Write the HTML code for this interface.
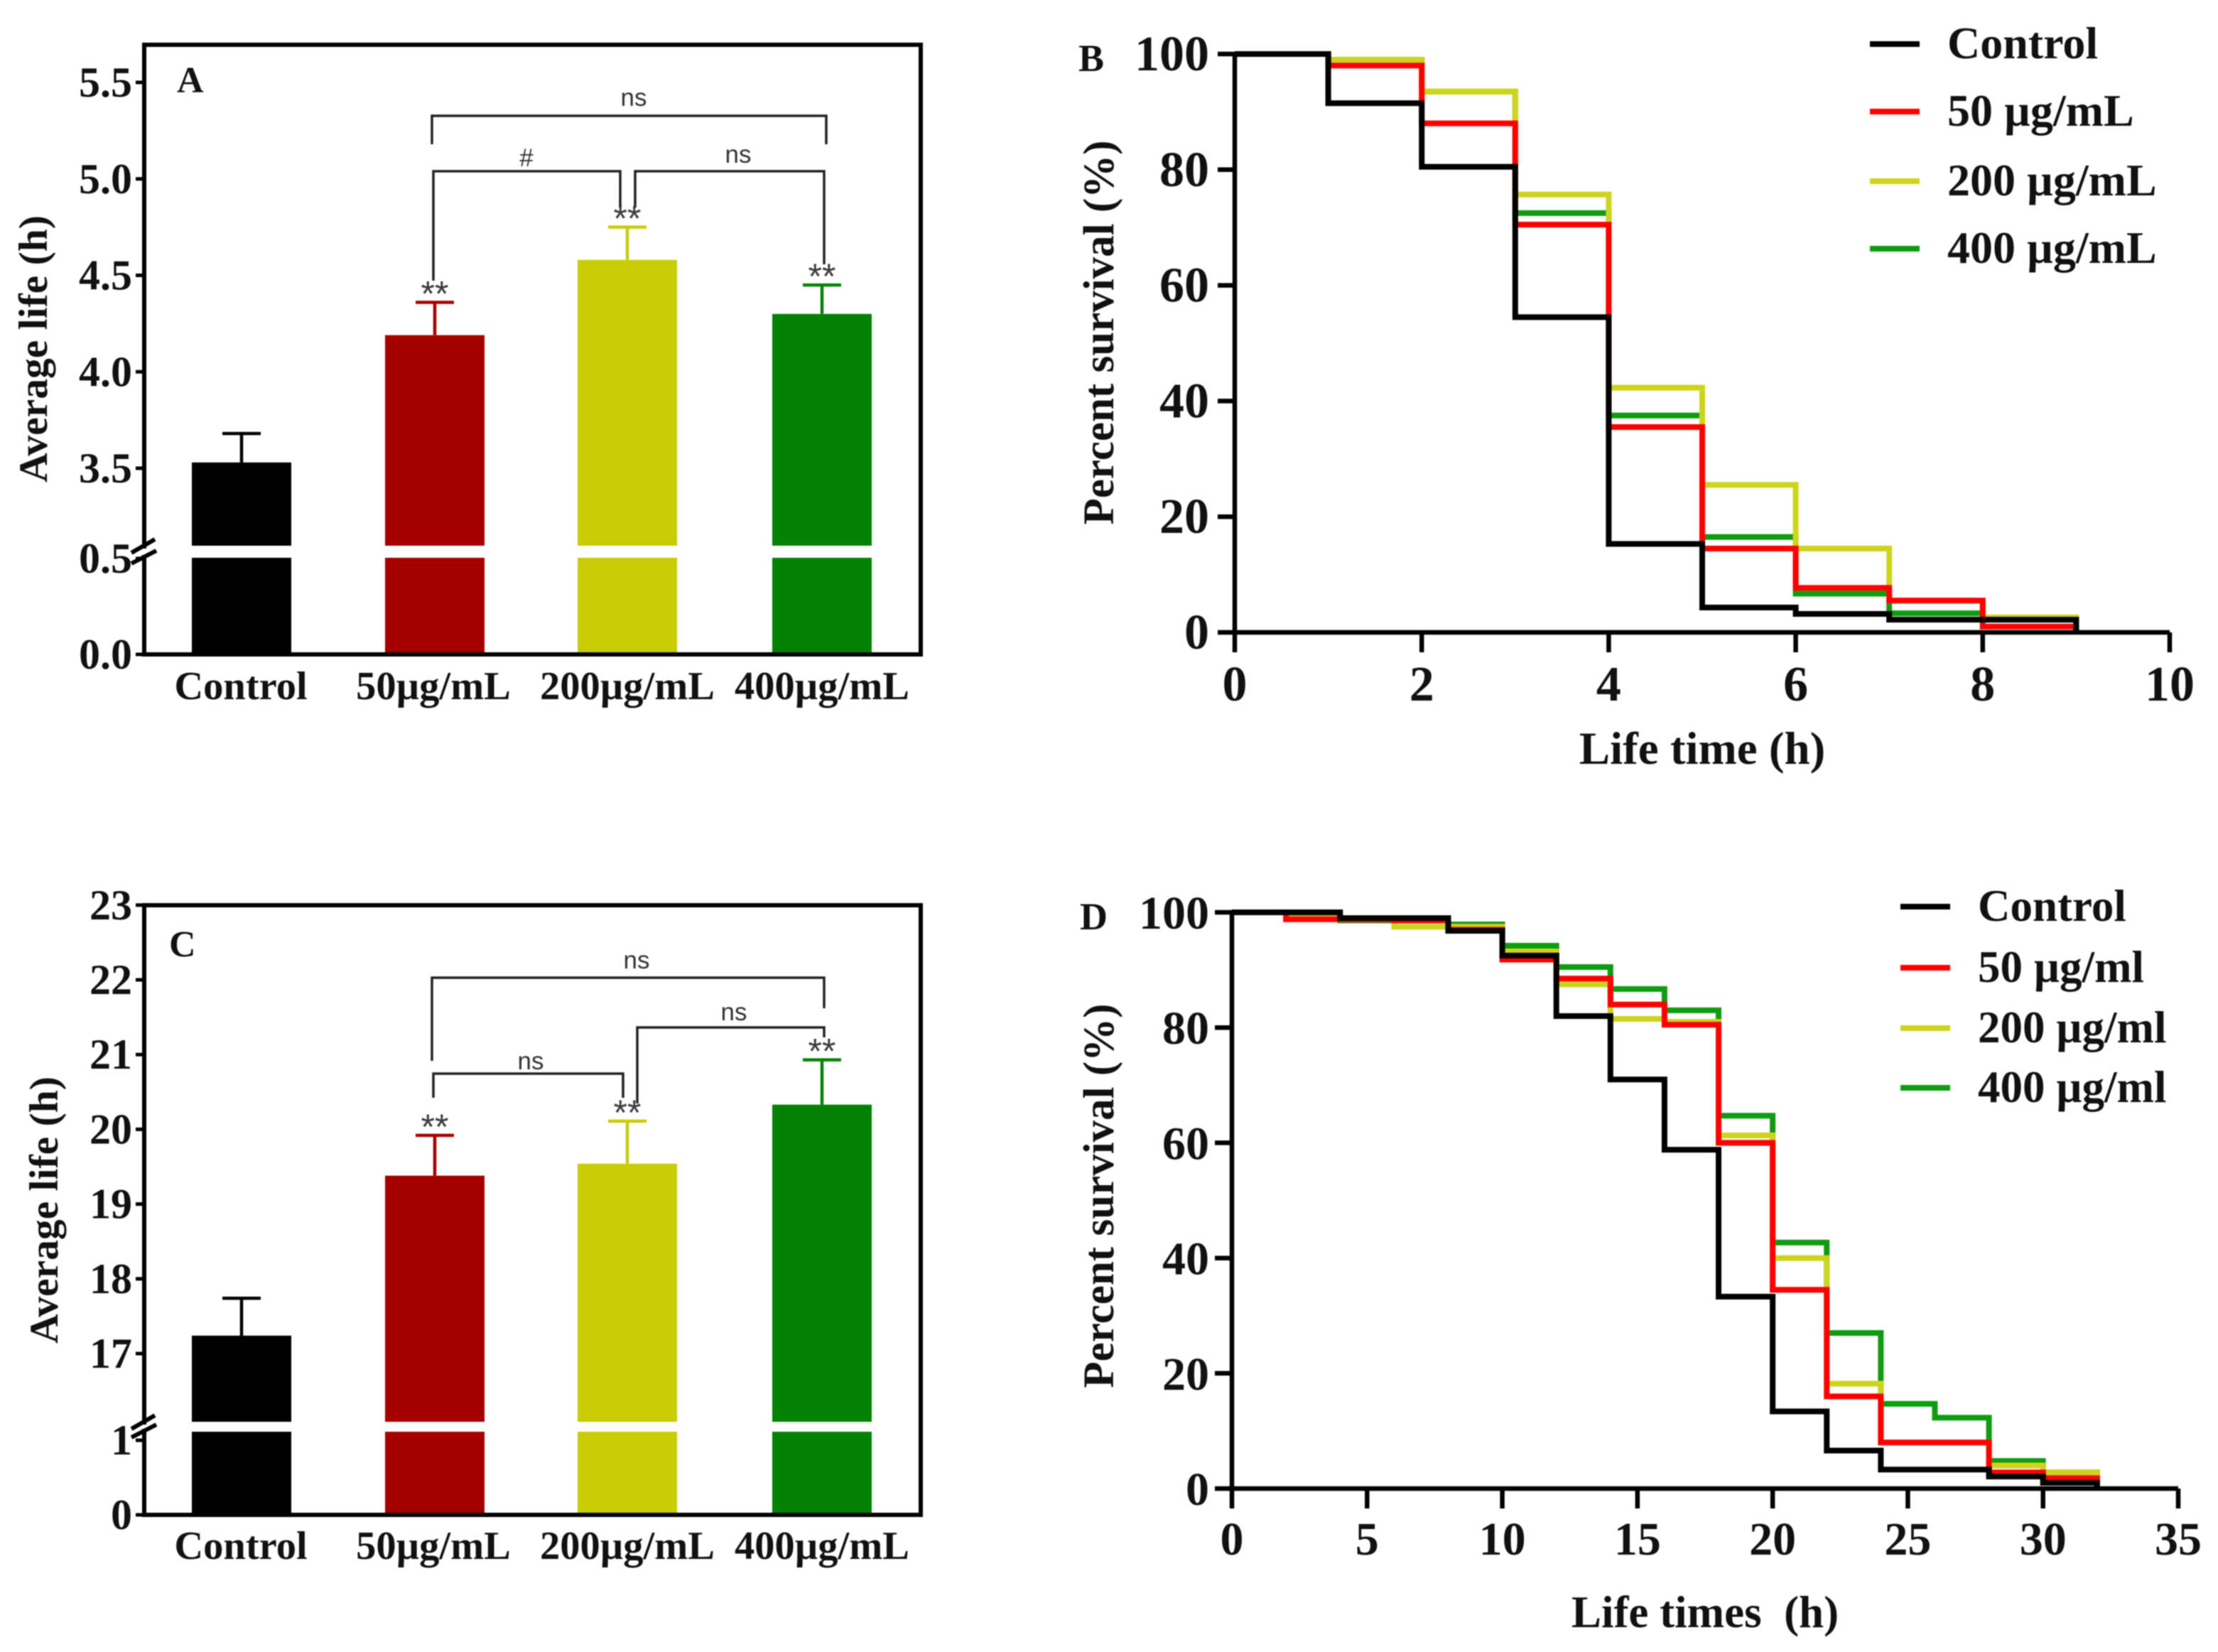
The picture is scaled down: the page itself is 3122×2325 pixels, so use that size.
<!DOCTYPE html>
<html lang="en">
<head>
<meta charset="utf-8">
<title>Average life and survival curves</title>
<style>
html,body{margin:0;padding:0;background:#fff;width:3122px;height:2325px;overflow:hidden}
svg{display:block;filter:blur(0.9px)}
text{font-family:"Liberation Serif",serif;font-weight:bold;fill:#111}
.note{font-family:"Liberation Sans",sans-serif;font-weight:normal;font-size:35px;fill:#333}
.star{font-family:"Liberation Sans",sans-serif;font-weight:normal;font-size:50px;fill:#3a3a3a}
.br{fill:none;stroke:#222;stroke-width:3.5}
</style>
</head>
<body>
<svg id="fig" xmlns="http://www.w3.org/2000/svg" width="3122" height="2325" viewBox="0 0 3122 2325">
  <rect width="3122" height="2325" fill="#fff"/>

  <g id="panelA"></g>
  <g id="panelB"></g>
  <g id="panelC"></g>
  <g id="panelD"></g>

  <text x="249" y="130" font-size="52">A</text>
  <text x="1518" y="100" font-size="54">B</text>
  <text x="238" y="1346" font-size="52">C</text>
  <text x="1520" y="1308" font-size="54">D</text>

  <text transform="translate(66,491) rotate(-90)" text-anchor="middle" font-size="57.5">Average life (h)</text>
  <text transform="translate(81,1703) rotate(-90)" text-anchor="middle" font-size="57.5">Average life (h)</text>
  <text transform="translate(1567,468) rotate(-90)" text-anchor="middle" font-size="61">Percent survival (%)</text>
  <text transform="translate(1567,1683) rotate(-90)" text-anchor="middle" font-size="61">Percent survival (%)</text>
  <text x="2396" y="1075" text-anchor="middle" font-size="65">Life time (h)</text>
  <text x="2400" y="2290" text-anchor="middle" font-size="63" xml:space="preserve">Life times  (h)</text>

  <g>
    <path class="br" d="M608 203V163H1163V203"/>
    <path class="br" d="M610 395V241H873V292"/>
    <path class="br" d="M894 292V241H1160V372"/>
    <text class="note" x="892" y="149" text-anchor="middle">ns</text>
    <text class="note" x="741" y="234" text-anchor="middle">#</text>
    <text class="note" x="1039" y="229" text-anchor="middle">ns</text>
  </g>
  <g>
    <path class="br" d="M608 1493V1376H1160V1419"/>
    <path class="br" d="M610 1545V1511H877V1545"/>
    <path class="br" d="M897 1553V1446H1160V1460"/>
    <text class="note" x="896" y="1363" text-anchor="middle">ns</text>
    <text class="note" x="747" y="1505" text-anchor="middle">ns</text>
    <text class="note" x="1033" y="1436" text-anchor="middle">ns</text>
  </g>
</svg>
<script>
var NS = 'http://www.w3.org/2000/svg';

// Panel A data
var barCategories = ['Control', '50µg/mL', '200µg/mL', '400µg/mL'];
var barColors = ['#000000', '#a60000', '#c9cc05', '#048204'];
var barStars = ['', '**', '**', '**'];
var aMeans = [3.53, 4.19, 4.58, 4.30];
var aErrorTops = [3.68, 4.36, 4.75, 4.45];
var aUpperTicks = [3.5, 4.0, 4.5, 5.0, 5.5];
var aLowerTicks = [0.0, 0.5];

// Panel C data
var cMeans = [17.24, 19.38, 19.54, 20.33];
var cErrorTops = [17.74, 19.92, 20.11, 20.93];
var cUpperTicks = [17, 18, 19, 20, 21, 22, 23];
var cLowerTicks = [0, 1];

// Panel B data
var bHours = [0, 1, 2, 3, 4, 5, 6, 7, 8, 9];
var bControl = [100, 91.5, 80.5, 54.5, 15.3, 4.3, 3.2, 2.2, 2.2, 0];
var b50 = [100, 98, 88, 70.5, 35.5, 14.5, 7.7, 5.5, 1, 0];
var b200 = [100, 99, 93.5, 75.7, 42.3, 25.5, 14.5, 5.5, 2.6, 0];
var b400 = [100, 99, 93.5, 72.5, 37.5, 16.5, 6.7, 3.3, 2.2, 0];
var bXTicks = [0, 2, 4, 6, 8, 10];
var bLegend = ['Control', '50 µg/mL', '200 µg/mL', '400 µg/mL'];

// Panel D data
var dHours = [0, 2, 4, 6, 8, 10, 12, 14, 16, 18, 20, 22, 24, 26, 28, 30, 32];
var dControl = [100, 100, 99, 99, 96.8, 92.5, 82, 71, 58.8, 33.3, 13.4, 6.6, 3.3, 3.3, 2.1, 1, 0];
var d50 = [100, 98.8, 98.8, 98.6, 97, 91.8, 88.5, 84, 80.5, 60, 34.5, 16, 8, 8, 2.8, 1.8, 0];
var d200 = [100, 99, 98.8, 97.5, 97.5, 93.2, 87.5, 81.5, 81, 61.3, 40, 18.2, 8, 8, 4, 2.8, 0];
var d400 = [100, 99.5, 98.6, 98.6, 97.9, 94.2, 90.5, 86.7, 83, 64.7, 42.7, 27, 14.7, 12.3, 4.8, 2.8, 0];
var dXTicks = [0, 5, 10, 15, 20, 25, 30, 35];
var dLegend = ['Control', '50 µg/ml', '200 µg/ml', '400 µg/ml'];

var percentTicks = [0, 20, 40, 60, 80, 100];
var survivalColors = ['#000000', '#ff0000', '#cdd41c', '#109c10'];
var survivalDrawOrder = [3, 2, 1, 0];

function mk(tag, attrs, parent) {
  var el = document.createElementNS(NS, tag);
  for (var k in attrs) el.setAttribute(k, attrs[k]);
  parent.appendChild(el);
  return el;
}

function drawBarPanel(parent, cfg, means, errTops, upTicks, lowTicks) {
  var L = 203, R = 1296, T = cfg.top, B = cfg.bottom;
  function yUp(v) { return cfg.upRefY + (cfg.upRefV - v) * cfg.upScale; }
  function yLow(v) { return B - v * cfg.lowScale; }
  var centers = [340, 612, 883, 1157];
  var barW = 140;

  means.forEach(function (m, i) {
    var cx = centers[i], col = barColors[i];
    var err = mk('path', {d: 'M' + cx + ' ' + yUp(m) + 'V' + yUp(errTops[i]) + 'M' + (cx - 27) + ' ' + yUp(errTops[i]) + 'H' + (cx + 27), stroke: col, 'stroke-width': 4.5, fill: 'none'}, parent);
    
    
    var up = mk('rect', {x: cx - barW / 2, y: yUp(m), width: barW, height: cfg.breakUpperY - yUp(m), fill: col}, parent);
    
    
    var low = mk('rect', {x: cx - barW / 2, y: cfg.breakLowerY, width: barW, height: B - cfg.breakLowerY, fill: col}, parent);
    
    
    if (barStars[i]) {
      var st = mk('text', {x: cx, y: yUp(errTops[i]) + 5, 'text-anchor': 'middle', 'class': 'star'}, parent);
      st.textContent = barStars[i];
      
      
    }
    var lab = mk('text', {x: cfg.labelX[i], y: cfg.labelY, 'text-anchor': 'middle', 'font-size': 56.5}, parent);
    lab.textContent = barCategories[i];
    
    
  });

  var frame = mk('rect', {x: L, y: T, width: R - L, height: B - T, fill: 'none', stroke: '#000', 'stroke-width': 6}, parent);
  
  

  function tick(v, y) {
    var t = mk('line', {x1: L - 12, x2: L, y1: y, y2: y, stroke: '#000', 'stroke-width': 5}, parent);
    
    
    var lbl = mk('text', {x: 186, y: y + 20, 'text-anchor': 'end', 'font-size': cfg.tickSize}, parent);
    lbl.textContent = cfg.fmt(v);
    
    
  }
  upTicks.forEach(function (v) { tick(v, yUp(v)); });
  lowTicks.forEach(function (v) { tick(v, yLow(v)); });

  var gap = mk('rect', {x: L - 4, y: cfg.breakUpperY + 4, width: 8, height: cfg.breakLowerY - cfg.breakUpperY - 8, fill: '#fff'}, parent);
  
  
  var marks = mk('path', {d: 'M' + (L - 18) + ' ' + (cfg.breakUpperY + 10) + 'L' + (L + 15) + ' ' + (cfg.breakUpperY - 9) + 'M' + (L - 18) + ' ' + (cfg.breakLowerY + 8) + 'L' + (L + 17) + ' ' + (cfg.breakLowerY - 10), stroke: '#000', 'stroke-width': 6, fill: 'none'}, parent);
  
  
}

function drawSurvivalPanel(parent, cfg, hours, series, xTicks, legend) {
  function x(v) { return cfg.x0 + (v - cfg.xMin) / (cfg.xMax - cfg.xMin) * (cfg.x1 - cfg.x0); }
  function y(v) { return cfg.y0 + v / 100 * (cfg.y100 - cfg.y0); }

  survivalDrawOrder.forEach(function (idx) {
    var vals = series[idx];
    var d = 'M' + x(hours[0]) + ' ' + y(vals[0]);
    for (var i = 1; i < hours.length; i++) {
      d += 'H' + x(hours[i]) + 'V' + y(vals[i]);
    }
    var p = mk('path', {d: d, fill: 'none', stroke: survivalColors[idx], 'stroke-width': 8, 'stroke-linejoin': 'miter'}, parent);
    
    
  });

  var ax = mk('path', {d: 'M' + x(cfg.xMin) + ' ' + (y(100) - 3) + 'V' + y(0) + 'H' + x(cfg.xMax), fill: 'none', stroke: '#000', 'stroke-width': 6.5}, parent);
  
  

  xTicks.forEach(function (v) {
    var t = mk('line', {x1: x(v), x2: x(v), y1: y(0), y2: y(0) + 28, stroke: '#000', 'stroke-width': 6.5}, parent);
    
    
    var l = mk('text', {x: x(v), y: cfg.xLabelY, 'text-anchor': 'middle', 'font-size': cfg.tickSize}, parent);
    l.textContent = String(v);
    
    
  });
  percentTicks.forEach(function (v) {
    var t = mk('line', {x1: x(cfg.xMin) - 24, x2: x(cfg.xMin), y1: y(v), y2: y(v), stroke: '#000', 'stroke-width': 6.5}, parent);
    
    
    var l = mk('text', {x: cfg.yLabelX, y: y(v) + 23, 'text-anchor': 'end', 'font-size': cfg.tickSize}, parent);
    l.textContent = String(v);
    
    
  });
  legend.forEach(function (name, i) {
    var ly = cfg.legendY[i];
    var sw = mk('line', {x1: cfg.legendX, x2: cfg.legendX + 70, y1: ly, y2: ly, stroke: survivalColors[i], 'stroke-width': 8}, parent);
    
    
    var tx = mk('text', {x: cfg.legendX + 109, y: ly + 20, 'font-size': cfg.legendSize}, parent);
    tx.textContent = name;
    
    
  });
}

drawBarPanel(document.getElementById('panelA'), {
  top: 63, bottom: 921, upRefV: 5.5, upRefY: 116, upScale: 271.5,
  lowScale: 270, breakUpperY: 768, breakLowerY: 785,
  labelX: [339, 610, 883, 1157], labelY: 984, tickSize: 60,
  fmt: function (v) { return v.toFixed(1); }
}, aMeans, aErrorTops, aUpperTicks, aLowerTicks);

drawBarPanel(document.getElementById('panelC'), {
  top: 1274, bottom: 2132, upRefV: 17, upRefY: 1905, upScale: 105.2,
  lowScale: 105, breakUpperY: 2001, breakLowerY: 2015,
  labelX: [339, 610, 883, 1157], labelY: 2194, tickSize: 60,
  fmt: function (v) { return String(v); }
}, cMeans, cErrorTops, cUpperTicks, cLowerTicks);

drawSurvivalPanel(document.getElementById('panelB'), {
  x0: 1738, x1: 3054, xMin: 0, xMax: 10, y0: 890, y100: 76,
  xLabelY: 986, yLabelX: 1702, tickSize: 70,
  legendX: 2632, legendY: [62, 157, 255, 350], legendSize: 64
}, bHours, [bControl, b50, b200, b400], bXTicks, bLegend);

drawSurvivalPanel(document.getElementById('panelD'), {
  x0: 1734, x1: 3066, xMin: 0, xMax: 35, y0: 2095, y100: 1284,
  xLabelY: 2188, yLabelX: 1702, tickSize: 66,
  legendX: 2675, legendY: [1276, 1362, 1447, 1531], legendSize: 63
}, dHours, [dControl, d50, d200, d400], dXTicks, dLegend);
</script>
</body>
</html>
